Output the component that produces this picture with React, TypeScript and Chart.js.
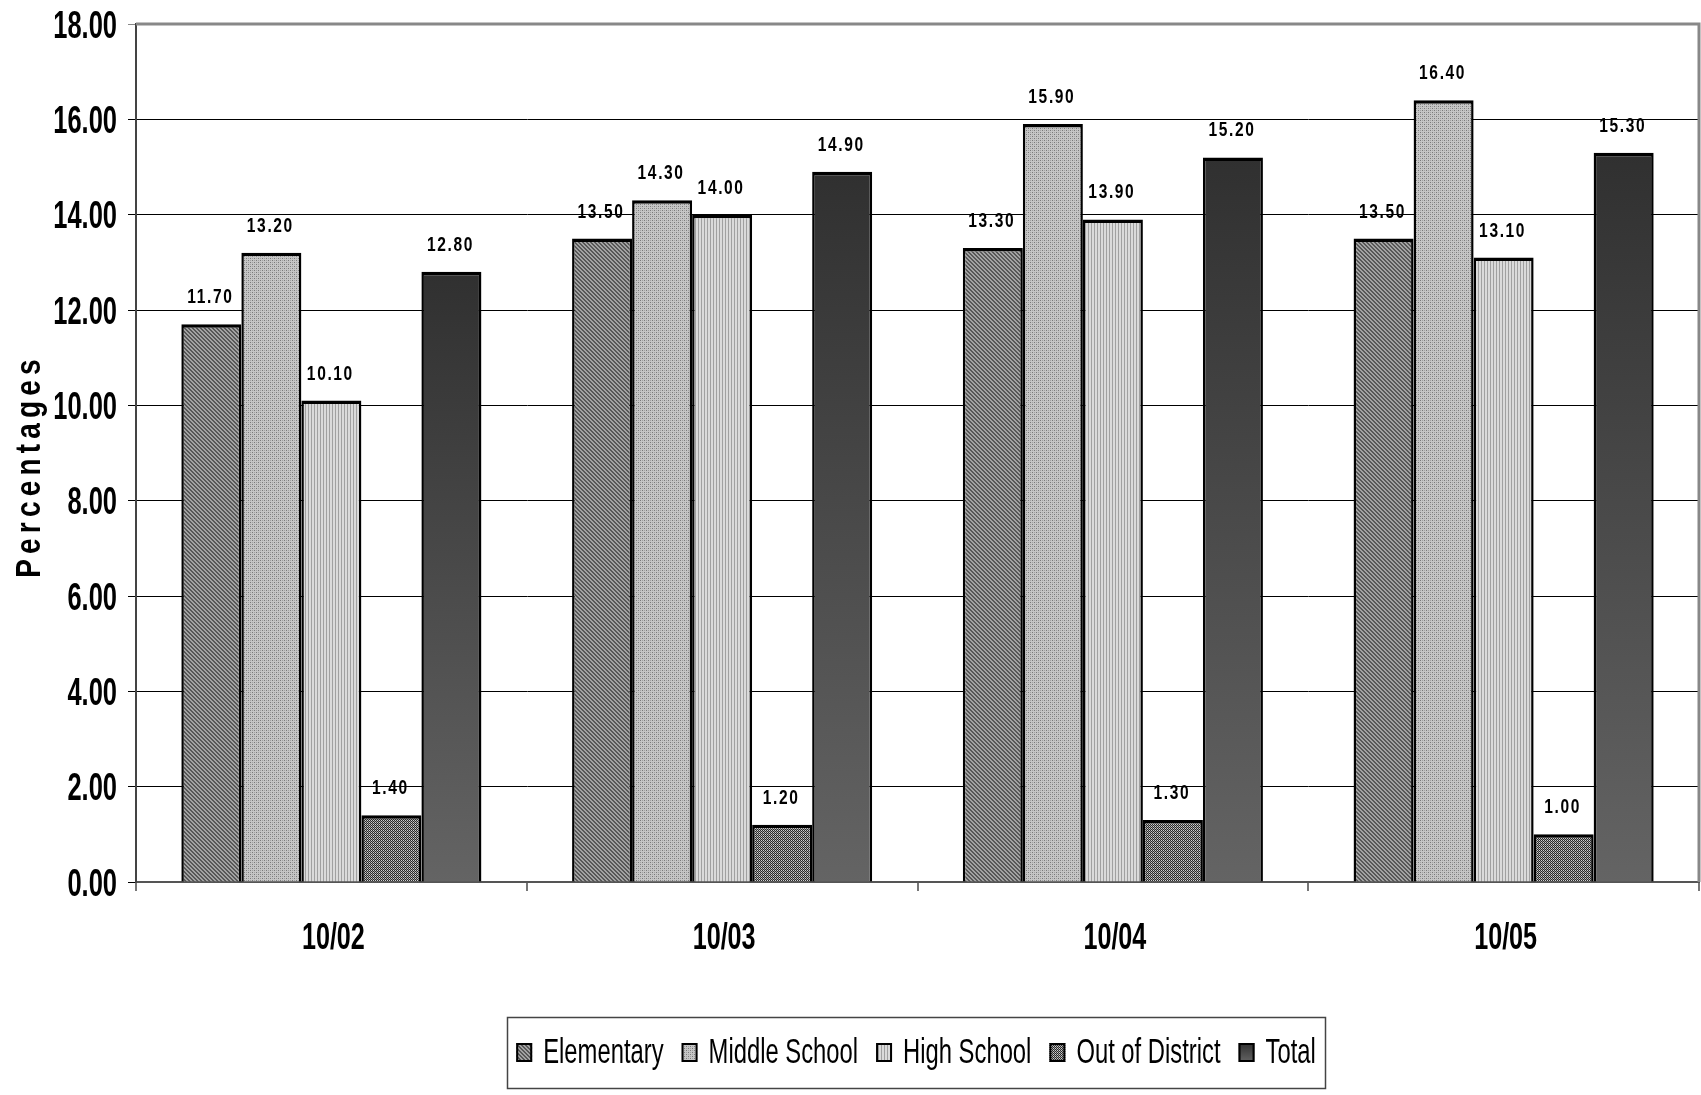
import React, { useEffect, useRef } from "react";
import { Chart, registerables } from "chart.js";

Chart.register(...registerables);

const categories = ["10/02", "10/03", "10/04", "10/05"];
const seriesNames = ["Elementary", "Middle School", "High School", "Out of District", "Total"];
const elementary = [11.7, 13.5, 13.3, 13.5];
const middleSchool = [13.2, 14.3, 15.9, 16.4];
const highSchool = [10.1, 14.0, 13.9, 13.1];
const outOfDistrict = [1.4, 1.2, 1.3, 1.0];
const total = [12.8, 14.9, 15.2, 15.3];
const yMin = 0;
const yMax = 18;
const yStep = 2;
const yTitle = "Percentages";

const FONT = "'Liberation Sans', Arial, Helvetica, sans-serif";

const W = 1701;
const H = 1095;

function makePattern(size: number, draw: (g: CanvasRenderingContext2D, s: number) => void) {
  const c = document.createElement("canvas");
  c.width = size;
  c.height = size;
  const g = c.getContext("2d")!;
  draw(g, size);
  return g.createPattern(c, "repeat")!;
}

function px(g: CanvasRenderingContext2D, x: number, y: number, col: string) {
  g.fillStyle = col;
  g.fillRect(x, y, 1, 1);
}

function buildFills() {
  const elem = makePattern(4, (g, s) => {
    for (let y = 0; y < s; y++)
      for (let x = 0; x < s; x++) px(g, x, y, (x - y + 8) % 4 < 2 ? "#575757" : "#a2a2a2");
  });
  const mid = makePattern(4, (g, s) => {
    for (let y = 0; y < s; y++)
      for (let x = 0; x < s; x++) {
        const dark = (x === 0 && y === 0) || (x === 2 && y === 2);
        const mid2 = (x === 2 && y === 0) || (x === 0 && y === 2);
        px(g, x, y, dark ? "#7a7a7a" : mid2 ? "#a2a2a2" : "#c6c6c6");
      }
  });
  const high = makePattern(3, (g, s) => {
    for (let y = 0; y < s; y++)
      for (let x = 0; x < s; x++) px(g, x, y, x === 2 ? "#a0a0a0" : "#dadada");
  });
  const ood = makePattern(4, (g, s) => {
    for (let y = 0; y < s; y++)
      for (let x = 0; x < s; x++) px(g, x, y, (x + y) % 2 === 0 ? "#2a2a2a" : x % 2 === 1 && y % 2 === 0 ? "#d0d0d0" : "#9a9a9a");
  });
  return [elem, mid, high, ood];
}

function drawScaled(
  ctx: CanvasRenderingContext2D,
  text: string,
  x: number,
  y: number,
  font: string,
  sx: number,
  sy: number,
  align: CanvasTextAlign,
  spacing = 0
) {
  ctx.save();
  ctx.translate(x, y);
  ctx.scale(sx, sy);
  ctx.font = font;
  (ctx as any).letterSpacing = `${spacing}px`;
  ctx.textAlign = align;
  ctx.textBaseline = "alphabetic";
  ctx.fillStyle = "#000";
  ctx.fillText(text, 0, 0);
  ctx.restore();
}

export default function App() {
  const ref = useRef<HTMLCanvasElement | null>(null);

  useEffect(() => {
    document.body.style.margin = "0";
    document.body.style.overflow = "hidden";
    const canvas = ref.current!;
    const [elemP, midP, highP, oodP] = buildFills();

    const totalFill = (c: any) => {
      const chart = c.chart;
      if (c.type !== "data" || !chart.chartArea) return "#444444";
      const ys = chart.scales.y;
      const top = ys.getPixelForValue(c.raw);
      const bot = ys.getPixelForValue(0);
      const gr = chart.ctx.createLinearGradient(0, top, 0, bot);
      gr.addColorStop(0, "#303030");
      gr.addColorStop(1, "#646464");
      return gr;
    };

    const border = { top: 3.5, left: 2.5, right: 2.5, bottom: 0 };
    const values = [elementary, middleSchool, highSchool, outOfDistrict, total];
    const fills: any[] = [elemP, midP, highP, oodP, totalFill];

    const datasets = values.map((v, i) => ({
      label: seriesNames[i],
      data: v,
      backgroundColor: fills[i],
      borderColor: "#000000",
      borderWidth: border,
      borderSkipped: false as any,
      categoryPercentage: 0.768,
      barPercentage: 1.0,
    }));

    const decor = {
      id: "decor",
      afterDatasetsDraw(chart: any) {
        const ctx: CanvasRenderingContext2D = chart.ctx;
        chart.data.datasets.forEach((ds: any, di: number) => {
          const meta = chart.getDatasetMeta(di);
          meta.data.forEach((el: any, i: number) => {
            const v = ds.data[i] as number;
            drawScaled(ctx, v.toFixed(2), el.x - 1, el.y - 21, `bold 21px ${FONT}`, 0.74, 1, "center", 2.2);
          });
        });
      },
      afterDraw(chart: any) {
        const ctx: CanvasRenderingContext2D = chart.ctx;
        const a = chart.chartArea;
        ctx.save();
        // plot frame (top & right)
        ctx.strokeStyle = "#888888";
        ctx.lineWidth = 3;
        ctx.beginPath();
        ctx.moveTo(a.left, a.top);
        ctx.lineTo(a.right, a.top);
        ctx.lineTo(a.right, a.bottom);
        ctx.stroke();
        ctx.restore();

        // y tick labels
        const ys = chart.scales.y;
        ys.ticks.forEach((t: any, i: number) => {
          const yp = ys.getPixelForTick(i);
          drawScaled(ctx, Number(t.value).toFixed(2), 117, yp + 13.5, `bold 38px ${FONT}`, 0.67, 1, "right");
        });

        // x tick labels
        const xs = chart.scales.x;
        xs.ticks.forEach((t: any, i: number) => {
          const xp = xs.getPixelForTick(i);
          drawScaled(ctx, String(chart.data.labels[t.value]), xp + 2, 949, `bold 37px ${FONT}`, 0.68, 1, "center");
        });

        // y-axis title
        ctx.save();
        ctx.translate(40, 466);
        ctx.rotate(-Math.PI / 2);
        ctx.scale(0.8, 1);
        ctx.font = `bold 35px ${FONT}`;
        (ctx as any).letterSpacing = "6.5px";
        ctx.fillStyle = "#000";
        ctx.textAlign = "center";
        ctx.textBaseline = "alphabetic";
        ctx.fillText(yTitle, 0, 0);
        ctx.restore();

        // legend
        ctx.save();
        const legFills: any[] = [elemP, midP, highP, oodP];
        const lf = `35px ${FONT}`;
        const lsx = 0.68;
        ctx.font = lf;
        const sw = 16;
        const sh = 19;
        const gapSw = 11;
        const gapItem = 18;
        const widths = seriesNames.map((n) => ctx.measureText(n).width * lsx);
        const content =
          widths.reduce((s, w) => s + w, 0) + seriesNames.length * (sw + gapSw) + (seriesNames.length - 1) * gapItem;
        const cx = 916;
        let x = cx - content / 2;
        const boxL = Math.round(x - 9) + 0.5;
        const boxR = Math.round(x + content + 9) + 0.5;
        const boxT = 1017.5;
        const boxB = 1088.5;
        ctx.fillStyle = "#fff";
        ctx.fillRect(boxL, boxT, boxR - boxL, boxB - boxT);
        ctx.strokeStyle = "#444";
        ctx.lineWidth = 1.5;
        ctx.strokeRect(boxL, boxT, boxR - boxL, boxB - boxT);
        const base = 1063;
        seriesNames.forEach((n, i) => {
          const sy = base - 1 - sh;
          if (i < 4) {
            ctx.fillStyle = legFills[i];
          } else {
            const gr = ctx.createLinearGradient(0, sy, 0, sy + sh);
            gr.addColorStop(0, "#303030");
            gr.addColorStop(1, "#646464");
            ctx.fillStyle = gr;
          }
          ctx.fillRect(x, sy, sw, sh);
          ctx.strokeStyle = "#000";
          ctx.lineWidth = 2;
          ctx.strokeRect(x + 1, sy + 1, sw - 2, sh - 2);
          x += sw + gapSw;
          drawScaled(ctx, n, x, base, lf, lsx, 1, "left");
          x += widths[i] + gapItem;
        });
        ctx.restore();
      },
    };

    const chart = new Chart(canvas, {
      type: "bar",
      data: { labels: categories, datasets },
      options: {
        responsive: false,
        animation: false,
        devicePixelRatio: 1,
        layout: { padding: { top: 24, right: 2, left: 0, bottom: 0 } },
        plugins: {
          legend: { display: false },
          tooltip: { enabled: false },
          title: { display: false },
        },
        scales: {
          x: {
            grid: {
              display: true,
              drawOnChartArea: false,
              drawTicks: true,
              tickLength: 9,
              color: "#777777",
              lineWidth: 2,
              offset: true,
            },
            border: { display: true, color: "#555555", width: 2 },
            ticks: { display: false },
            afterFit: (s: any) => {
              s.height = H - 882;
            },
          },
          y: {
            min: yMin,
            max: yMax,
            ticks: {
              display: false,
              stepSize: yStep,
            },
            grid: {
              color: (c: any) => (c.tick && c.tick.value === yMax ? "#888888" : "#000000"),
              lineWidth: 1,
              tickLength: 8,
              drawTicks: true,
            },
            border: { display: true, color: "#444444", width: 2 },
            afterFit: (s: any) => {
              s.width = 136;
            },
          },
        },
      },
      plugins: [decor],
    });

    return () => chart.destroy();
  }, []);

  return (
    <div style={{ width: W, height: H, background: "#fff" }}>
      <canvas ref={ref} width={W} height={H} style={{ display: "block", width: W, height: H }} />
    </div>
  );
}
